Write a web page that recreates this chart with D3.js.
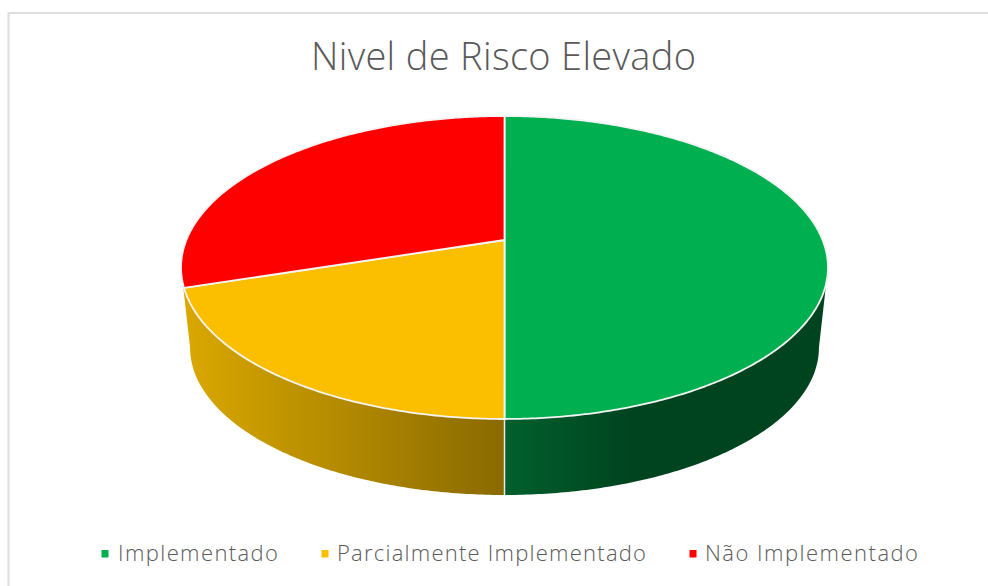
<!DOCTYPE html>
<html>
<head>
<meta charset="utf-8">
<script src="https://cdn.jsdelivr.net/npm/d3@7"></script>
<style>
  html, body { margin: 0; padding: 0; background: #fff; }
  svg { display: block; }
  text { font-family: "Open Sans", sans-serif; font-weight: 300; fill: #595959; }
</style>
</head>
<body>
<div id="chart"></div>
<script>
const categories = ["Implementado", "Parcialmente Implementado", "Não Implementado"];
const values = [50, 20, 30];
const colors = ["#00B050", "#FBBF00", "#FF0000"];
const legendX = [118, 337, 705];
const legendW = [160, 309, 213];

let width = 988,
    height = 586;

const svg = d3.select("#chart")
    .append("svg")
    .attr("width", width)
    .attr("height", height)
    .attr("viewBox", [0, 0, width, height]);

// chart frame
svg.append("path")
    .attr("d", `M8.5,${height} V13 H${width}`)
    .attr("fill", "none")
    .attr("stroke", "#DEDEDE")
    .attr("stroke-width", 2);

svg.append("text")
    .attr("x", 503.5)
    .attr("y", 70)
    .attr("text-anchor", "middle")
    .attr("font-size", 38)
    .attr("textLength", 385)
    .text("Nivel de Risco Elevado");

// perspective of the pie disc
const cx = 504.5,
    apexTop = 240,
    apexBottom = 321,
    k = -0.1815,
    a = 318.1,
    b = 146.5,
    bottomScale = 0.972;

function project(angle, level) {
    let X = Math.sin(angle),
        Y = -Math.cos(angle),
        w = 1 + k * Y,
        s = level ? bottomScale : 1,
        y0 = level ? apexBottom : apexTop;
    return [cx + a * s * X / w, y0 + b * s * Y / w];
}

function rim(start, end, level) {
    let n = Math.max(2, Math.ceil(Math.abs(end - start) / 0.01));
    return d3.range(n + 1).map(i => project(start + (end - start) * i / n, level));
}

const pie = d3.pie().sort(null)(values);
const silhouette = Math.asin(-k);   // where the side of the disc leaves the top ellipse
const line = d3.line();

const defs = svg.append("defs");

const gradYellow = defs.append("linearGradient")
    .attr("id", "wall-1")
    .attr("gradientUnits", "userSpaceOnUse")
    .attr("x1", 184).attr("x2", 504).attr("y1", 0).attr("y2", 0);
gradYellow.append("stop").attr("offset", 0).attr("stop-color", "#DAA800");
gradYellow.append("stop").attr("offset", 1).attr("stop-color", "#8A6A00");

const gradGreen = defs.append("linearGradient")
    .attr("id", "wall-0")
    .attr("gradientUnits", "userSpaceOnUse")
    .attr("x1", 504).attr("x2", 630).attr("y1", 0).attr("y2", 0);
gradGreen.append("stop").attr("offset", 0).attr("stop-color", "#00602D");
gradGreen.append("stop").attr("offset", 1).attr("stop-color", "#00441F");

// side walls, only the two slices at the front show one
const walls = [
    { id: 0, start: Math.PI / 2 + silhouette, end: Math.PI },
    { id: 1, start: Math.PI, end: 1.5 * Math.PI - silhouette }
];

svg.append("g")
    .selectAll("path")
    .data(walls)
    .join("path")
    .attr("d", d => line(rim(d.start, d.end, 0).concat(rim(d.end, d.start, 1))) + "Z")
    .attr("fill", d => `url(#wall-${d.id})`);

svg.append("path")
    .attr("d", line([project(Math.PI, 0), project(Math.PI, 1)]))
    .attr("stroke", "#E8E8E8")
    .attr("stroke-width", 1.5);

// top face
svg.append("g")
    .selectAll("path")
    .data(pie)
    .join("path")
    .attr("d", d => {
        let centre = [cx, apexTop];
        return line([centre].concat(rim(d.startAngle, d.endAngle, 0))) + "Z";
    })
    .attr("fill", (d, i) => colors[i])
    .attr("stroke", "#F4F4F4")
    .attr("stroke-width", 1.8)
    .attr("stroke-linejoin", "round");

// legend
const legend = svg.append("g")
    .selectAll("g")
    .data(categories)
    .join("g");

legend.append("rect")
    .attr("x", (d, i) => [101.5, 321.5, 689.5][i])
    .attr("y", 550)
    .attr("width", 7)
    .attr("height", 7.5)
    .attr("fill", (d, i) => colors[i]);

legend.append("text")
    .attr("x", (d, i) => legendX[i])
    .attr("y", 561)
    .attr("font-size", 22)
    .attr("textLength", (d, i) => legendW[i])
    .text(d => d);
</script>
</body>
</html>
